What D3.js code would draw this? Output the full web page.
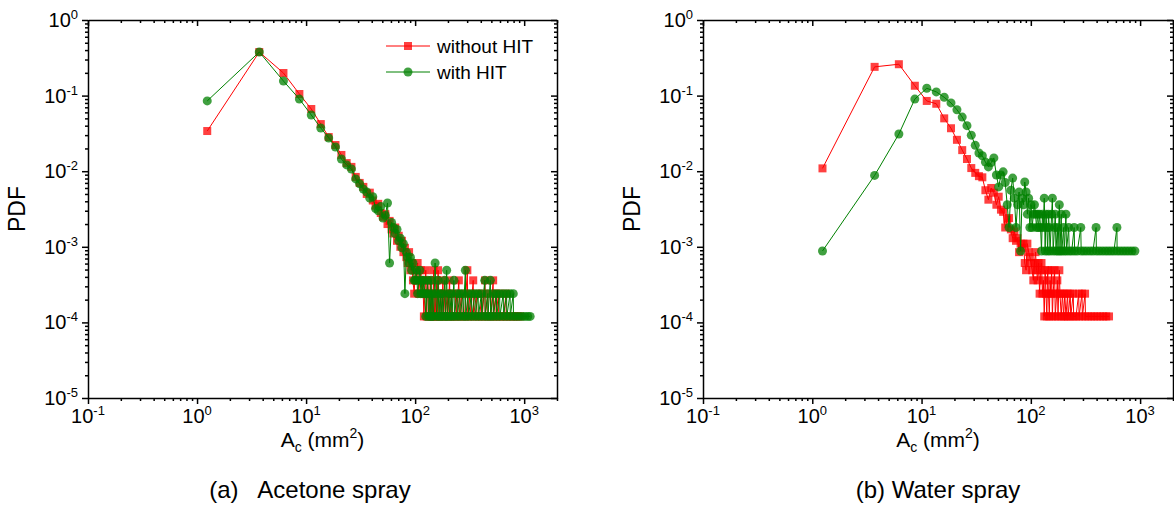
<!DOCTYPE html>
<html>
<head>
<meta charset="utf-8">
<script src="https://cdn.jsdelivr.net/npm/d3@7"></script>
<style>
  body { margin: 0; background: #fff; }
  svg { display: block; }
  text { font-family: "Liberation Sans", Arial, sans-serif; fill: #000; }
</style>
</head>
<body>
<svg id="chart" width="1174" height="517"></svg>
<script>
// tick labels (exponents of ten)
const xTickExp = [-1, 0, 1, 2, 3];
const yTickExp = [0, -1, -2, -3, -4, -5];
const seriesNames = ["without HIT", "with HIT"];

// (a) acetone spray, [A_c mm^2, PDF]
const acetoneWithout = [
  [1.24,0.034],[3.72,0.377],[6.2,0.199],[8.68,0.105],[11.16,0.0665],[13.64,0.042],[16.12,0.0283],[18.6,0.0222],
  [21.08,0.0164],[23.56,0.0128],[26.04,0.0114],[28.52,0.0084],[31.0,0.0070],[33.5,0.0062],[36.0,0.0050],[38.4,0.0052],
  [40.9,0.0041],[43.4,0.0035],[45.9,0.0037],[48.4,0.0028],[50.8,0.0025],[53.3,0.0027],[55.8,0.0020],[58.3,0.0022],
  [60.8,0.0017],[63.2,0.0015],[65.7,0.0018],[68.2,0.0012],[70.7,0.0014],[73.2,0.0010],[75.6,0.0012],[78.1,0.00085],
  [80.6,0.00097],[83.1,0.00073],[85.6,0.00061],[88.0,0.00085],[90.5,0.00049],[93.0,0.00061],[95.5,0.00036],[98.0,0.00024],
  [100.4,0.00049],[102.9,0.00036],[105.4,0.00061],[107.9,0.00024],[110.4,0.00036],[112.8,0.00049],[115.3,0.00024],[117.8,0.00036],
  [120.3,0.00012],[122.8,0.00024],[125.2,0.00049],[127.7,0.00012],[130.2,0.00036],[132.7,0.00024],[135.2,0.00012],[137.6,0.00036],
  [140.1,0.00012],[142.6,0.00024],[145.1,0.00012],[147.6,0.00049],[150.0,0.00012],[152.5,0.00024],[155.0,0.00012],[157.5,0.00036],
  [160.0,0.00012],[162.4,0.00049],[164.9,0.00024],[167.4,0.00012],[172.4,0.00024],[174.8,0.00012],[179.8,0.00036],[182.3,0.00012],
  [187.2,0.00024],[189.7,0.00012],[197.2,0.00024],[199.6,0.00012],[207.1,0.00036],[209.6,0.00012],[217.0,0.00024],[219.5,0.00012],
  [229.4,0.00012],[236.8,0.00024],[239.3,0.00012],[251.7,0.00036],[254.2,0.00012],[266.6,0.00024],[269.0,0.00012],[283.9,0.00012],
  [301.2,0.00049],[303.7,0.00012],[318.6,0.00024],[321.0,0.00012],[340.9,0.00036],[343.4,0.00012],[365.7,0.00024],[368.1,0.00012],
  [390.4,0.00012],[410.3,0.00024],[412.8,0.00012],[437.6,0.00036],[440.0,0.00012],[464.8,0.00024],[467.3,0.00012],[494.6,0.00012],
  [519.4,0.00036],[521.9,0.00012],[549.2,0.00024],[551.6,0.00012],[581.4,0.00024],[583.9,0.00012],[613.6,0.00012],[648.4,0.00012],
  [680.6,0.00024],[683.1,0.00012],[717.8,0.00012],[757.5,0.00012],[794.7,0.00012],[839.6,0.00012],[876.8,0.00012],[918.8,0.00012]
];
const acetoneWith = [
  [1.24,0.085],[3.72,0.377],[6.2,0.156],[8.68,0.090],[11.16,0.0554],[13.64,0.0373],[16.12,0.0275],[18.6,0.0209],
  [21.08,0.0145],[23.56,0.0121],[26.04,0.0107],[28.52,0.0079],[31.0,0.0068],[33.5,0.0058],[36.0,0.0053],[38.4,0.0044],
  [40.9,0.0046],[43.4,0.0032],[45.9,0.0030],[48.4,0.0034],[50.8,0.0024],[53.3,0.0026],[55.8,0.0038],[58.3,0.00061],
  [60.8,0.0021],[63.2,0.0018],[65.7,0.0015],[68.2,0.0017],[70.7,0.0012],[73.2,0.0013],[75.6,0.00097],[78.1,0.0011],
  [80.6,0.00024],[83.1,0.00085],[85.6,0.00073],[88.0,0.00061],[90.5,0.00073],[93.0,0.00049],[95.5,0.00061],[98.0,0.00036],
  [100.4,0.00036],[102.9,0.00049],[105.4,0.00024],[107.9,0.00036],[110.4,0.00049],[112.8,0.00024],[115.3,0.00036],[117.8,0.00024],
  [120.3,0.00036],[122.8,0.00024],[125.2,0.00012],[127.7,0.00024],[130.2,0.00036],[132.7,0.00012],[135.2,0.00024],[137.6,0.00012],
  [140.1,0.00036],[142.6,0.00012],[145.1,0.00024],[147.6,0.00012],[152.5,0.00061],[155.0,0.00024],[157.5,0.00012],[162.4,0.00036],
  [164.9,0.00012],[169.9,0.00024],[172.4,0.00012],[177.3,0.00024],[179.8,0.00012],[187.2,0.00036],[189.7,0.00012],[194.7,0.00049],
  [197.2,0.00012],[204.6,0.00024],[207.1,0.00012],[214.6,0.00024],[217.0,0.00012],[227.0,0.00036],[229.4,0.00012],[241.8,0.00024],
  [244.3,0.00012],[256.7,0.00024],[259.2,0.00012],[274.0,0.00024],[276.5,0.00012],[288.9,0.00049],[291.4,0.00012],[306.2,0.00024],
  [308.7,0.00012],[328.5,0.00024],[331.0,0.00012],[353.3,0.00024],[355.8,0.00012],[378.0,0.00024],[380.5,0.00012],[405.3,0.00024],
  [407.8,0.00012],[435.1,0.00036],[437.6,0.00012],[462.4,0.00024],[464.8,0.00012],[489.6,0.00036],[492.1,0.00012],[519.4,0.00024],
  [521.9,0.00012],[556.6,0.00024],[559.1,0.00012],[596.3,0.00024],[598.7,0.00012],[643.4,0.00024],[645.9,0.00012],[690.5,0.00024],
  [693.0,0.00012],[742.6,0.00024],[745.1,0.00012],[794.7,0.00024],[797.2,0.00012],[846.8,0.00012],[898.9,0.00012],[956.0,0.00012],
  [1015.6,0.00012],[1077.6,0.00012],[1134.6,0.00012]
];

// (b) water spray, [A_c mm^2, PDF]
const waterWithout = [
  [1.24,0.0109],[3.72,0.24],[6.2,0.26],[8.68,0.135],[11.16,0.085],[13.64,0.078],[16.12,0.05],[18.6,0.037],
  [21.08,0.026],[23.56,0.019],[26.04,0.0145],[28.52,0.011],[31.0,0.0095],[33.5,0.0086],[36.0,0.0083],[38.4,0.0056],
  [40.9,0.0042],[43.4,0.0060],[45.9,0.0052],[48.4,0.0036],[50.8,0.0046],[53.3,0.0031],[55.8,0.0029],[58.3,0.0018],
  [60.8,0.0023],[63.2,0.0024],[65.7,0.0017],[68.2,0.0013],[70.7,0.0016],[73.2,0.0012],[75.6,0.0013],[78.1,0.00085],
  [80.6,0.0011],[83.1,0.00097],[85.6,0.0011],[88.0,0.00061],[90.5,0.00049],[93.0,0.0011],[95.5,0.00085],[98.0,0.00073],
  [100.4,0.00061],[102.9,0.00049],[105.4,0.00036],[107.9,0.00061],[110.4,0.00085],[112.8,0.00049],[115.3,0.00036],[117.8,0.00061],
  [120.3,0.00024],[122.8,0.00049],[125.2,0.00061],[127.7,0.00024],[130.2,0.00036],[132.7,0.00012],[135.2,0.00049],[137.6,0.00024],
  [140.1,0.00012],[142.6,0.00049],[145.1,0.00024],[147.6,0.00012],[150.0,0.00036],[152.5,0.00024],[155.0,0.00049],[157.5,0.00012],
  [160.0,0.00024],[164.9,0.00049],[167.4,0.00012],[172.4,0.00024],[174.8,0.00036],[177.3,0.00012],[182.3,0.00049],[184.8,0.00024],
  [189.7,0.00012],[194.7,0.00024],[199.6,0.00012],[204.6,0.00024],[209.6,0.00012],[217.0,0.00024],[219.5,0.00012],[229.4,0.00024],
  [231.9,0.00012],[244.3,0.00024],[246.8,0.00012],[259.2,0.00012],[274.0,0.00024],[276.5,0.00012],[293.8,0.00024],[296.3,0.00012],
  [313.6,0.00024],[316.1,0.00012],[335.9,0.00012],[358.2,0.00012],[380.5,0.00012],[405.3,0.00012],[432.6,0.00012],[459.9,0.00012],
  [489.6,0.00012],[519.4,0.00012]
];
const waterWith = [
  [1.24,0.00088],[3.72,0.0088],[6.2,0.031],[8.68,0.09],[11.16,0.125],[13.64,0.112],[16.12,0.095],[18.6,0.08],
  [21.08,0.065],[23.56,0.052],[26.04,0.04],[28.52,0.03],[31.0,0.022],[33.5,0.0174],[36.0,0.016],[38.4,0.0132],
  [40.9,0.0114],[43.4,0.013],[45.9,0.015],[48.4,0.0089],[50.8,0.0062],[53.3,0.0089],[55.8,0.0098],[58.3,0.0071],
  [60.8,0.0036],[63.2,0.0018],[65.7,0.0056],[68.2,0.0081],[70.7,0.0044],[73.2,0.0018],[75.6,0.0036],[78.1,0.0053],
  [80.6,0.00088],[83.1,0.0044],[85.6,0.0036],[88.0,0.0072],[90.5,0.0053],[93.0,0.0027],[95.5,0.0044],[98.0,0.0018],
  [100.4,0.0036],[102.9,0.0018],[105.4,0.0027],[107.9,0.0036],[110.4,0.0027],[112.8,0.0018],[115.3,0.0027],[117.8,0.0018],
  [120.3,0.0027],[122.8,0.0018],[125.2,0.00088],[127.7,0.0027],[130.2,0.0018],[132.7,0.0044],[135.2,0.00088],[137.6,0.0027],
  [140.1,0.0018],[142.6,0.00088],[145.1,0.0027],[147.6,0.0018],[150.0,0.00088],[155.0,0.0027],[157.5,0.0044],[160.0,0.00088],
  [164.9,0.0018],[167.4,0.0027],[169.9,0.00088],[174.8,0.0018],[177.3,0.00088],[182.3,0.0036],[184.8,0.00088],[189.7,0.0027],
  [192.2,0.00088],[199.6,0.0018],[202.1,0.00088],[209.6,0.0027],[212.1,0.00088],[222.0,0.0018],[224.5,0.00088],[236.8,0.00088],
  [249.2,0.0018],[251.7,0.00088],[266.6,0.00088],[286.4,0.0018],[288.9,0.00088],[306.2,0.00088],[326.0,0.00088],[348.3,0.00088],
  [370.6,0.00088],[395.4,0.0018],[397.9,0.00088],[422.7,0.00088],[449.9,0.00088],[479.7,0.00088],[509.5,0.00088],[541.7,0.00088],
  [576.4,0.00088],[613.6,0.0018],[616.1,0.00088],[655.8,0.00088],[697.9,0.00088],[742.6,0.00088],[789.7,0.00088],[841.8,0.00088],
  [896.4,0.00088]
];

const colors = ["#ff0000", "#008000"];
const plotTop = 20, plotBottom = 398;

const panels = [
  { left: 88, right: 557, caption: "(a)   Acetone spray", captionX: 310, series: [acetoneWithout, acetoneWith], legend: true },
  { left: 703, right: 1173, caption: "(b) Water spray", captionX: 938, series: [waterWithout, waterWith], legend: false }
];

const svg = d3.select("#chart");
const isPow10 = v => Math.abs(Math.log10(v) - Math.round(Math.log10(v))) < 1e-6;

function supLabel(sel, e) {
  sel.append("tspan").text("10");
  sel.append("tspan").attr("dy", -8).attr("font-size", 13).text(e);
}

function drawMarker(g, s, px, py) {
  if (s === 0) {
    g.append("rect").attr("x", px - 4).attr("y", py - 4).attr("width", 8).attr("height", 8)
      .attr("fill", colors[0]).attr("fill-opacity", 0.75);
  } else {
    g.append("circle").attr("cx", px).attr("cy", py).attr("r", 4.5)
      .attr("fill", colors[1]).attr("fill-opacity", 0.75);
  }
}

panels.forEach(p => {
  const x = d3.scaleLog().domain([0.1, 2000]).range([p.left, p.right]);
  const y = d3.scaleLog().domain([1e-5, 1]).range([plotBottom, plotTop]);
  const g = svg.append("g");

  const majorX = xTickExp.map(e => Math.pow(10, e));
  const majorY = yTickExp.map(e => Math.pow(10, e));
  const minorX = x.ticks().filter(v => !isPow10(v));
  const minorY = y.ticks().filter(v => !isPow10(v));

  // series: lines then markers, red below green
  p.series.forEach((data, s) => {
    const line = d3.line().x(d => x(d[0])).y(d => y(d[1]));
    g.append("path").datum(data).attr("d", line)
      .attr("fill", "none").attr("stroke", colors[s]).attr("stroke-width", 1);
    const mg = g.append("g");
    data.forEach(d => drawMarker(mg, s, x(d[0]), y(d[1])));
  });

  // axes
  const axes = [
    [d3.axisBottom(x), `translate(0,${plotBottom})`, majorX, minorX, 6, 3],
    [d3.axisTop(x), `translate(0,${plotTop})`, majorX, minorX, -6, -3],
    [d3.axisLeft(y), `translate(${p.left},0)`, majorY, minorY, 6, 3],
    [d3.axisRight(y), `translate(${p.right},0)`, majorY, minorY, -6, -3]
  ];
  axes.forEach(([ax, tr, major, minor, big, small]) => {
    const a1 = g.append("g").attr("transform", tr)
      .call(ax.tickValues(major).tickSize(big).tickSizeOuter(0).tickFormat(""));
    const a2 = g.append("g").attr("transform", tr)
      .call(ax.tickValues(minor).tickSize(small).tickSizeOuter(0).tickFormat(""));
    a2.select(".domain").remove();
    [a1, a2].forEach(a => a.selectAll("line, path").attr("stroke", "#000").attr("stroke-width", 1.5));
  });

  // tick labels
  xTickExp.forEach(e => {
    g.append("text").attr("x", x(Math.pow(10, e))).attr("y", plotBottom + 25)
      .attr("text-anchor", "middle").attr("font-size", 20).call(supLabel, e);
  });
  yTickExp.forEach(e => {
    g.append("text").attr("x", p.left - 10).attr("y", y(Math.pow(10, e)) + 7)
      .attr("text-anchor", "end").attr("font-size", 20).call(supLabel, e);
  });

  // axis titles
  const xt = g.append("text").attr("x", (p.left + p.right) / 2).attr("y", plotBottom + 49)
    .attr("text-anchor", "middle").attr("font-size", 21);
  xt.append("tspan").text("A");
  xt.append("tspan").attr("dy", 5).attr("font-size", 14).text("c");
  xt.append("tspan").attr("dy", -5).text(" (mm");
  xt.append("tspan").attr("dy", -9).attr("font-size", 14).text("2");
  xt.append("tspan").attr("dy", 9).text(")");

  g.append("text").attr("transform", `translate(${p.left - 63},${(plotTop + plotBottom) / 2}) rotate(-90)`)
    .attr("text-anchor", "middle").attr("font-size", 23).text("PDF");

  g.append("text").attr("x", p.captionX).attr("y", plotBottom + 100)
    .attr("text-anchor", "middle").attr("font-size", 24).style("white-space", "pre").text(p.caption);

  if (p.legend) {
    seriesNames.forEach((name, s) => {
      const ly = 46 + s * 26;
      g.append("line").attr("x1", 386).attr("x2", 430).attr("y1", ly).attr("y2", ly)
        .attr("stroke", colors[s]).attr("stroke-width", 1);
      drawMarker(g, s, 408, ly);
      g.append("text").attr("x", 437).attr("y", ly + 7).attr("font-size", 19).text(name);
    });
  }
});
</script>
</body>
</html>
